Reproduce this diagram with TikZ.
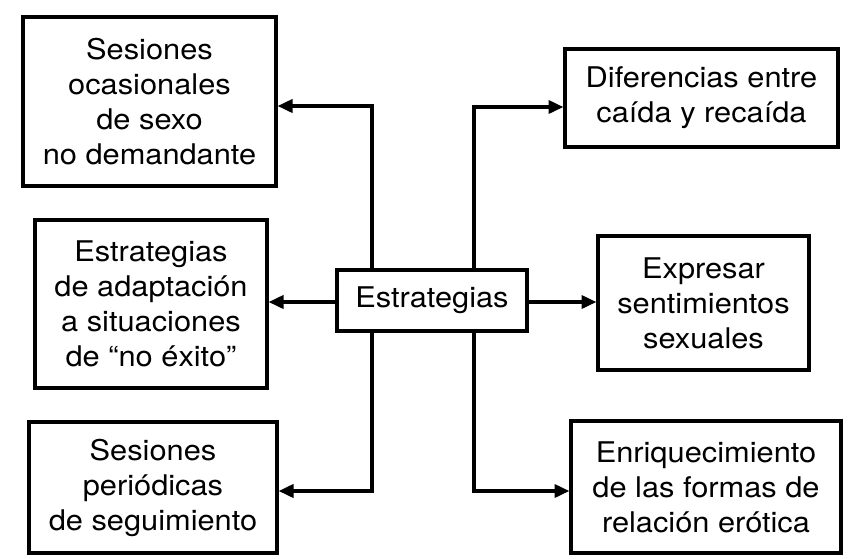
\documentclass[tikz,border=0pt]{standalone}
\usepackage{fontspec}
\setmainfont{TeX Gyre Heros}[FakeStretch=1.08]
\usetikzlibrary{arrows.meta}
\begin{document}
\begin{tikzpicture}[x=1pt,y=-1pt,
  box/.style={draw,line width=4pt,align=center,inner sep=0pt,
    font=\fontsize{28.5pt}{35pt}\selectfont},
  arr/.style={line width=3.6pt,-{Triangle[length=15pt,width=13pt]},shorten >=-0.5pt}]
\useasboundingbox (0,0) rectangle (857,558);
\node[box,minimum width=253pt,minimum height=169pt] (tl) at (149.5,101.5) {Sesiones\\ocasionales\\de sexo\\no demandante};
\node[box,minimum width=232pt,minimum height=168pt] (ml) at (151,304) {Estrategias\\de adaptación\\a situaciones\\de “no éxito”};
\node[box,minimum width=248pt,minimum height=131pt] (bl) at (153,487.5) {Sesiones\\periódicas\\de seguimiento};
\node[box,minimum width=190pt,minimum height=61pt] (c) at (432,300.5) {Estrategias};
\node[box,minimum width=273pt,minimum height=98pt] (tr) at (701.5,98) {Diferencias entre\\caída y recaída};
\node[box,minimum width=211pt,minimum height=134pt] (mr) at (703.5,303) {Expresar\\sentimientos\\sexuales};
\node[box,minimum width=270pt,minimum height=132pt] (br) at (706,487) {Enriquecimiento\\de las formas de\\relación erótica};
\coordinate (j1) at (372,106);
\coordinate (j2) at (372,491);
\coordinate (j3) at (474,107);
\coordinate (j4) at (474,491);
\coordinate (jm) at (0,302);
\draw[arr] (c.north -| j1) |- (tl.east |- j1);
\draw[arr] (c.south -| j2) |- (bl.east |- j2);
\draw[arr] (c.north -| j3) |- (tr.west |- j3);
\draw[arr] (c.south -| j4) |- (br.west |- j4);
\draw[arr] (c.west |- jm) -- (ml.east |- jm);
\draw[arr] (c.east |- jm) -- (mr.west |- jm);
\end{tikzpicture}
\end{document}
